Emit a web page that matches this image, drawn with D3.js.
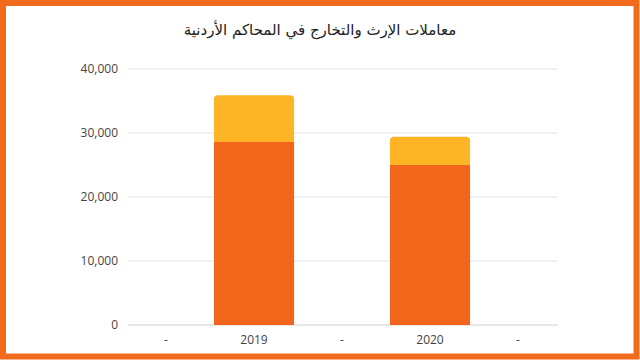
<!DOCTYPE html>
<html>
<head>
<meta charset="utf-8">
<script src="https://cdn.jsdelivr.net/npm/d3@7"></script>
<style>
	html, body { margin: 0; padding: 0; background: #fff; }
	svg { display: block; }
</style>
</head>
<body>
<svg id="chart" width="640" height="360"></svg>
<script>
const title = 'معاملات الإرث والتخارج في المحاكم الأردنية';
const categories = ['a', '2019', 'b', '2020', 'c'];
const categoryLabels = ['-', '2019', '-', '2020', '-'];
const baseValues = [0, 28600, 0, 25000, 0];
const topValues = [0, 7300, 0, 4400, 0];
const yTicks = [0, 10000, 20000, 30000, 40000];

const width = 640, height = 360;
const svg = d3.select('#chart');

// orange frame
svg.append('rect')
	.attr('x', 3).attr('y', 3)
	.attr('width', width - 6.5).attr('height', height - 6.5)
	.attr('fill', 'none')
	.attr('stroke', '#f26a1c')
	.attr('stroke-width', 6);

svg.append('text')
	.attr('x', 320).attr('y', 35)
	.attr('text-anchor', 'middle')
	.attr('direction', 'rtl')
	.style('font-family', '"DejaVu Sans", sans-serif')
	.style('font-size', '15px')
	.style('fill', '#222')
	.text(title);

const x = d3.scaleBand().domain(categories).range([122, 562]).paddingInner(0.09).paddingOuter(0.045);
const y = d3.scaleLinear().domain([0, 40000]).range([325, 69]);

// grid
svg.append('g')
	.selectAll('line')
	.data(yTicks)
	.enter().append('line')
	.attr('x1', 128).attr('x2', 558)
	.attr('y1', d => y(d)).attr('y2', d => y(d))
	.attr('stroke', d => d === 0 ? '#cfcfcf' : '#e3e3e3')
	.attr('stroke-width', 1);

svg.append('g')
	.selectAll('text')
	.data(yTicks)
	.enter().append('text')
	.attr('x', 118)
	.attr('y', d => y(d) + 4)
	.attr('text-anchor', 'end')
	.style('font-family', '"Open Sans", sans-serif')
	.style('font-size', '12px')
	.style('fill', '#444')
	.text(d => d3.format(',')(d));

const bw = x.bandwidth();
const r = 4;

// bottom segment
svg.append('g')
	.selectAll('rect')
	.data(categories.filter((c, i) => baseValues[i] > 0))
	.enter().append('rect')
	.attr('x', c => x(c))
	.attr('width', bw)
	.attr('y', c => y(baseValues[categories.indexOf(c)]))
	.attr('height', c => y(0) - y(baseValues[categories.indexOf(c)]))
	.attr('fill', '#f2661c');

// top segment with rounded top corners
svg.append('g')
	.selectAll('path')
	.data(categories.filter((c, i) => topValues[i] > 0))
	.enter().append('path')
	.attr('fill', '#fdb526')
	.attr('d', c => {
		const i = categories.indexOf(c);
		const x0 = x(c), x1 = x(c) + bw;
		const yb = y(baseValues[i]), yt = y(baseValues[i] + topValues[i]);
		return 'M' + x0 + ',' + yb + 'V' + (yt + r) +
			'Q' + x0 + ',' + yt + ' ' + (x0 + r) + ',' + yt +
			'H' + (x1 - r) +
			'Q' + x1 + ',' + yt + ' ' + x1 + ',' + (yt + r) +
			'V' + yb + 'Z';
	});

svg.append('g')
	.selectAll('text')
	.data(categories)
	.enter().append('text')
	.attr('x', c => x(c) + bw / 2)
	.attr('y', 344)
	.attr('text-anchor', 'middle')
	.style('font-family', '"Open Sans", sans-serif')
	.style('font-size', '12px')
	.style('fill', '#444')
	.text((c, i) => categoryLabels[i]);
</script>
</body>
</html>
